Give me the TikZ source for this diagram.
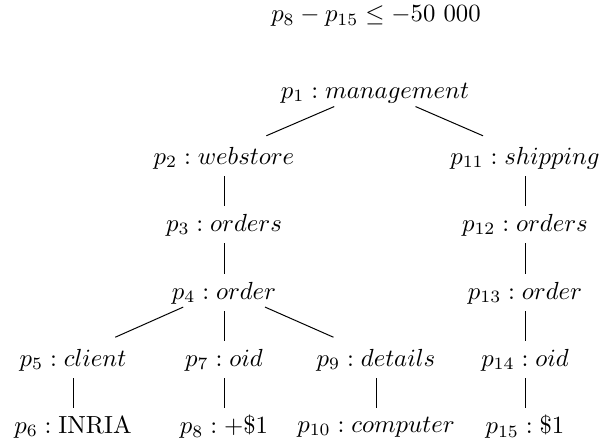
\documentclass[tikz,border=0pt]{standalone}
\usetikzlibrary{calc}
\tikzset{lbl/.style={inner sep=0pt, anchor=center}}
\newcommand\treeedge[2]{\draw ($(#1)!0.27!(#2)$) -- ($(#1)!0.72!(#2)$);}
\newcommand\slantedge[2]{\draw ($(#1)!0.27!(#2)+(0,-4)$) -- ($(#1)!0.72!(#2)+(0,-4)$);}
\begin{document}
\begin{tikzpicture}[x=0.4042pt, y=-0.4042pt]
\useasboundingbox (0,0) rectangle (616,443);
\node[lbl] (t) at (376,16) {$p_8 - p_{15} \leq -50\ 000$};
\node[lbl] (p1) at (375,93) {$p_1 : management$};
\node[lbl] (p2) at (224,158) {$p_2 : webstore$};
\node[lbl] (p11) at (525,158) {$p_{11} : shipping$};
\node[lbl] (p3) at (224,225) {$p_3 : orders$};
\node[lbl] (p12) at (525,225) {$p_{12} : orders$};
\node[lbl] (p4) at (224,293) {$p_4 : order$};
\node[lbl] (p13) at (525,293) {$p_{13} : order$};
\node[lbl] (p5) at (73,360) {$p_5 : client$};
\node[lbl] (p7) at (224,360) {$p_7 : oid$};
\node[lbl] (p9) at (376,360) {$p_9 : details$};
\node[lbl] (p14) at (525,360) {$p_{14} : oid$};
\node[lbl] (p6) at (73,427) {$p_6 : \mathrm{INRIA}$};
\node[lbl] (p8) at (224,427) {$p_8 : +\$1$};
\node[lbl] (p10) at (376,427) {$p_{10} : computer$};
\node[lbl] (p15) at (525,427) {$p_{15} : \$1$};
\slantedge{p1}{p2}
\slantedge{p1}{p11}
\treeedge{p2}{p3}
\treeedge{p3}{p4}
\slantedge{p4}{p5}
\treeedge{p4}{p7}
\slantedge{p4}{p9}
\treeedge{p5}{p6}
\treeedge{p7}{p8}
\treeedge{p9}{p10}
\treeedge{p11}{p12}
\treeedge{p12}{p13}
\treeedge{p13}{p14}
\treeedge{p14}{p15}
\end{tikzpicture}
\end{document}
